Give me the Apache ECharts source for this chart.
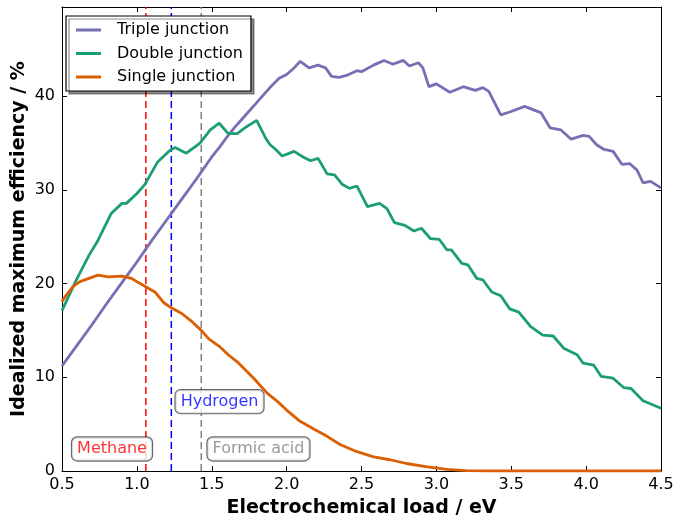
<!DOCTYPE html>
<html><head><meta charset="utf-8">
<script src="https://cdn.jsdelivr.net/npm/echarts@6/dist/echarts.min.js"></script>
<style>html,body{margin:0;padding:0;background:#fff}#c{width:674px;height:515px}</style>
</head><body><div id="c"></div>
<script>
const seriesNames = ['Triple junction', 'Double junction', 'Single junction'];
const tripleX = [0.50,0.60,0.70,0.80,0.90,1.00,1.10,1.20,1.30,1.40,1.50,1.55,1.60,1.65,1.70,1.75,1.80,1.85,1.90,1.95,2.00,2.05,2.09,2.15,2.21,2.26,2.30,2.35,2.40,2.47,2.50,2.58,2.65,2.71,2.78,2.82,2.88,2.91,2.95,3.00,3.09,3.18,3.26,3.31,3.35,3.43,3.49,3.59,3.70,3.76,3.83,3.90,3.98,4.02,4.07,4.12,4.18,4.24,4.29,4.34,4.38,4.43,4.50];
const tripleY = [11.2,13.4,15.6,17.9,20.1,22.3,24.6,26.8,29.0,31.2,33.5,34.5,35.6,36.6,37.5,38.4,39.3,40.2,41.1,41.9,42.3,43.0,43.7,43.0,43.3,43.0,42.1,42.0,42.2,42.7,42.6,43.3,43.8,43.4,43.8,43.2,43.55,43.0,41.0,41.3,40.4,41.0,40.6,40.9,40.5,38.0,38.3,38.9,38.2,36.6,36.4,35.4,35.8,35.7,34.8,34.3,34.1,32.7,32.8,32.1,30.75,30.9,30.2];
const doubleX = [0.50,0.59,0.68,0.74,0.83,0.90,0.93,1.00,1.05,1.14,1.22,1.255,1.33,1.42,1.49,1.55,1.61,1.67,1.73,1.80,1.86,1.89,1.92,1.97,2.05,2.11,2.16,2.21,2.27,2.32,2.37,2.42,2.47,2.54,2.62,2.67,2.72,2.79,2.85,2.90,2.96,3.02,3.07,3.10,3.17,3.21,3.27,3.31,3.37,3.43,3.49,3.55,3.63,3.71,3.78,3.85,3.94,3.98,4.05,4.10,4.18,4.25,4.30,4.38,4.50];
const doubleY = [17.1,20.2,23.0,24.6,27.5,28.55,28.55,29.6,30.5,33.0,34.2,34.5,33.9,34.95,36.4,37.1,36.0,36.0,36.7,37.4,35.5,34.8,34.4,33.6,34.1,33.5,33.1,33.35,31.7,31.6,30.6,30.15,30.4,28.2,28.55,28.0,26.5,26.2,25.6,25.9,24.8,24.7,23.6,23.6,22.15,22.0,20.55,20.4,19.1,18.7,17.3,16.95,15.4,14.5,14.4,13.1,12.4,11.5,11.3,10.1,9.9,8.9,8.8,7.5,6.7];
const singleX = [0.50,0.53,0.575,0.62,0.68,0.74,0.81,0.90,0.965,1.01,1.065,1.12,1.18,1.22,1.30,1.37,1.43,1.48,1.55,1.61,1.68,1.78,1.87,1.94,2.00,2.09,2.19,2.27,2.36,2.47,2.58,2.69,2.80,2.94,3.07,3.20,3.35,3.60,4.00,4.50];
const singleY = [18.1,18.8,19.7,20.2,20.55,20.9,20.7,20.8,20.55,20.1,19.6,19.1,17.95,17.5,16.8,15.9,15.0,14.1,13.3,12.4,11.5,9.9,8.3,7.4,6.5,5.3,4.4,3.7,2.8,2.06,1.5,1.2,0.8,0.45,0.18,0.05,0.0,0.0,0.0,0.0];
const refNames = ['Methane', 'Hydrogen', 'Formic acid'];
const refX = [1.06, 1.23, 1.43];
const refLabelX = [0.834, 1.552, 1.812];
const refLabelY = [2.35, 7.4, 2.35];
const xTicks = [0.5, 1.0, 1.5, 2.0, 2.5, 3.0, 3.5, 4.0, 4.5];
const yTicks = [0, 10, 20, 30, 40];

const colors = ['#7570b3', '#1b9e77', '#d95f02'];
const refColors = ['#ff0000', '#0000ff', '#808080'];
const FONT = 'DejaVu Sans';
const YMAX = 49.5;

function zip(a, b) { return a.map((v, i) => [v, b[i]]); }

const series = [];
refX.forEach((x, i) => {
  series.push({
    type: 'line', name: refNames[i] + ' line', xAxisIndex: 0, yAxisIndex: 0,
    data: [[x, 0], [x, YMAX]], showSymbol: false, silent: true, z: 1,
    lineStyle: { color: refColors[i], width: 1.5, type: [7, 4] }
  });
});
const curveData = [zip(tripleX, tripleY), zip(doubleX, doubleY), zip(singleX, singleY)];
curveData.forEach((d, i) => {
  series.push({
    type: 'line', name: seriesNames[i], data: d, showSymbol: false, smooth: false, z: 3,
    color: colors[i], lineStyle: { color: colors[i], width: 2.8 }
  });
});
series.push({
  type: 'scatter', name: 'labels', z: 5, symbolSize: 0, silent: true,
  data: refNames.map((n, i) => ({ value: [refLabelX[i], refLabelY[i]], name: n,
    label: { color: refColors[i] } })),
  label: {
    show: true, position: 'inside', formatter: p => p.name,
    fontFamily: FONT, fontSize: 16, backgroundColor: '#fff',
    borderColor: '#444', borderWidth: 1.2, borderRadius: 5, padding: [4, 5, 3, 5]
  }
});

const axisCommon = {
  axisLine: { show: true, onZero: false, lineStyle: { color: '#000', width: 1 } },
  axisTick: { show: true, inside: true, length: 5, lineStyle: { color: '#000' } },
  splitLine: { show: false }
};

const option = {
  animation: false,
  grid: { left: 62, right: 13, top: 7, bottom: 44, containLabel: false, outerBoundsMode: 'none' },
  legend: {
    data: seriesNames, orient: 'vertical', left: 66, top: 16,
    icon: 'rect', itemWidth: 25, itemHeight: 3, itemGap: 5.5,
    textStyle: { fontFamily: FONT, fontSize: 16, color: '#000', lineHeight: 18, padding: [0, 0, 0, 11] },
    padding: [5, 8, 5, 10],
    backgroundColor: '#fff', borderColor: '#000', borderWidth: 1.2, borderRadius: 0,
    shadowColor: 'rgba(0,0,0,0.45)', shadowBlur: 0, shadowOffsetX: 3, shadowOffsetY: 3
  },
  xAxis: [
    Object.assign({}, axisCommon, {
      type: 'value', min: 0.5, max: 4.5, interval: 0.5, position: 'bottom',
      name: 'Electrochemical load / eV', nameLocation: 'middle', nameGap: 28,
      nameTextStyle: { fontFamily: FONT, fontSize: 19, fontWeight: 'bold', color: '#000' },
      axisLabel: { fontFamily: FONT, fontSize: 16, color: '#000', margin: 6,
        formatter: v => xTicks.some(t => Math.abs(t - v) < 1e-9) ? v.toFixed(1) : '' }
    }),
    Object.assign({}, axisCommon, {
      type: 'value', min: 0.5, max: 4.5, interval: 0.5, position: 'top',
      axisLabel: { show: false }
    })
  ],
  yAxis: [
    Object.assign({}, axisCommon, {
      type: 'value', min: 0, max: YMAX, interval: 10, position: 'left',
      name: 'Idealized maximum efficiency / %', nameLocation: 'middle', nameGap: 33,
      nameMoveOverlap: false,
      nameTextStyle: { fontFamily: FONT, fontSize: 19, fontWeight: 'bold', color: '#000' },
      axisLabel: { fontFamily: FONT, fontSize: 16, color: '#000', margin: 7,
        formatter: v => yTicks.indexOf(v) >= 0 ? String(v) : '' }
    }),
    Object.assign({}, axisCommon, {
      type: 'value', min: 0, max: YMAX, interval: 10, position: 'right',
      axisLabel: { show: false }
    })
  ],
  series: series
};

const chart = echarts.init(document.getElementById('c'), null, { renderer: 'canvas' });
chart.setOption(option);
</script>
</body></html>
